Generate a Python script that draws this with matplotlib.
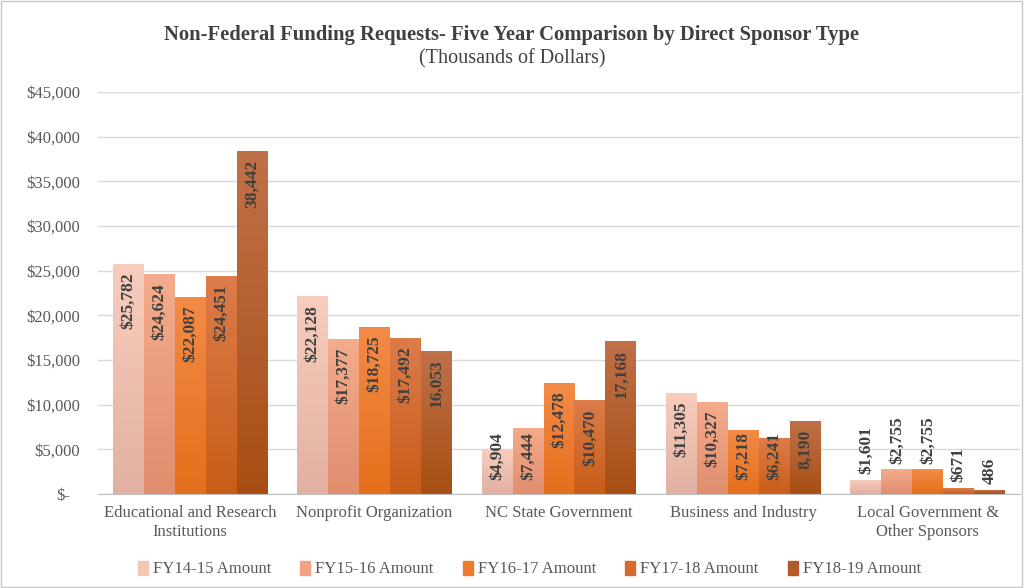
import numpy as np
import matplotlib
matplotlib.use("Agg")
import matplotlib.pyplot as plt
import matplotlib.transforms as mtransforms
from matplotlib.colors import LinearSegmentedColormap
from matplotlib.patches import Rectangle

categories = ["Educational and Research\nInstitutions", "Nonprofit Organization",
              "NC State Government", "Business and Industry",
              "Local Government &\nOther Sponsors"]
series_names = ["FY14-15 Amount", "FY15-16 Amount", "FY16-17 Amount",
                "FY17-18 Amount", "FY18-19 Amount"]
fy14_15 = [25782, 22128, 4904, 11305, 1601]
fy15_16 = [24624, 17377, 7444, 10327, 2755]
fy16_17 = [22087, 18725, 12478, 7218, 2755]
fy17_18 = [24451, 17492, 10470, 6241, 671]
fy18_19 = [38442, 16053, 17168, 8190, 486]
series = [fy14_15, fy15_16, fy16_17, fy17_18, fy18_19]
labels = [
    ["$25,782", "$22,128", "$4,904", "$11,305", "$1,601"],
    ["$24,624", "$17,377", "$7,444", "$10,327", "$2,755"],
    ["$22,087", "$18,725", "$12,478", "$7,218", "$2,755"],
    ["$24,451", "$17,492", "$10,470", "$6,241", "$671"],
    ["38,442", "16,053", "17,168", "8,190", "486"],
]
yticks = [0, 5000, 10000, 15000, 20000, 25000, 30000, 35000, 40000, 45000]
ytick_labels = ["$-", "$5,000", "$10,000", "$15,000", "$20,000", "$25,000",
                "$30,000", "$35,000", "$40,000", "$45,000"]

top_colors = ["#F8CDBD", "#F4AC8C", "#F38B48", "#DC7C4A", "#C0714A"]
bot_colors = ["#E2B0A0", "#E08E6E", "#E56F1A", "#C95D18", "#A84E14"]
legend_colors = ["#F6C6B4", "#F0A283", "#EE7A2E", "#D56A2E", "#B35A28"]

plt.rcParams['font.family'] = ['Liberation Serif', 'DejaVu Serif']

fig = plt.figure(figsize=(10.24, 5.88), dpi=100)
fig.patch.set_facecolor("white")
fig.add_artist(Rectangle((0.001, 0.001), 0.997, 0.997, transform=fig.transFigure,
                         fill=False, edgecolor="#C8C8C8", linewidth=1.0))

ax = fig.add_axes([98/1024, 1-494/588, 922/1024, 402/588])
ax.set_xlim(-0.5, 4.5)
ax.set_ylim(0, 45000)

n = len(series)
w = 0.168
x = np.arange(len(categories))
grad = np.linspace(0, 1, 256).reshape(-1, 1)
inside_texts = []
for i, vals in enumerate(series):
    offs = (i - (n - 1) / 2) * w
    bars = ax.bar(x + offs, vals, width=w, color=legend_colors[i], zorder=2,
                  label=series_names[i], linewidth=0)
    cmap = LinearSegmentedColormap.from_list("g%d" % i, [bot_colors[i], top_colors[i]])
    for b, v, lab in zip(bars, vals, labels[i]):
        bx, bw = b.get_x(), b.get_width()
        im = ax.imshow(grad, extent=(bx, bx + bw, 0, v), origin="lower",
                       cmap=cmap, aspect="auto", zorder=2.5)
        im.set_clip_path(b)
        cx = bx + bw / 2
        if v > 4000:
            t = ax.text(cx, v - 1000, lab, rotation=90, ha="center", va="top",
                        fontsize=12.5, fontweight="bold", color="#404040", zorder=4)
            inside_texts.append(t)
        else:
            ax.text(cx, v + 650, lab, rotation=90, ha="center", va="bottom",
                    fontsize=12.5, fontweight="bold", color="#404040", zorder=4,
                    clip_on=False)
ax.set_xlim(-0.5, 4.5)
ax.set_ylim(0, 45000)

ax.set_yticks(yticks)
ax.set_yticklabels(ytick_labels)
ax.set_xticks(x)
ax.set_xticklabels(categories, linespacing=1.25)
ax.tick_params(axis="both", length=0, labelsize=12, labelcolor="#595959")
ax.tick_params(axis="y", pad=13)
ax.tick_params(axis="x", pad=8)
# zero label ("$-") sits a little further left, like an accounting format
zl = ax.get_yticklabels()[0]
zl.set_transform(zl.get_transform() + mtransforms.ScaledTranslation(-10/100, 0, fig.dpi_scale_trans))
ax.grid(axis="y", color="#D9D9D9", linewidth=1, zorder=0)
ax.set_axisbelow(True)
for s in ["left", "right", "top"]:
    ax.spines[s].set_visible(False)
ax.spines["bottom"].set_color("#BFBFBF")
ax.spines["bottom"].set_zorder(3)

# keep inside labels above the bottom margin (Excel-like clamping)
fig.canvas.draw()
renderer = fig.canvas.get_renderer()
min_y = 1600
ybase_px = ax.transData.transform((0, min_y))[1]
for t in inside_texts:
    bb = t.get_window_extent(renderer)
    if bb.y0 < ybase_px:
        t.set_va("bottom")
        t.set_y(min_y)

fig.text(0.5, 1-35/588, "Non-Federal Funding Requests- Five Year Comparison by Direct Sponsor Type",
         ha="center", va="center", fontsize=14.9, fontweight="bold", color="#404040")
fig.text(0.5, 1-59/588, "(Thousands of Dollars)", ha="center", va="center",
         fontsize=14.5, color="#404040")

handles = [Rectangle((0, 0), 1, 1, color=c) for c in legend_colors]
leg = fig.legend(handles, series_names, loc="center", bbox_to_anchor=(0.517, 1-569/588),
                 ncol=5, frameon=False, fontsize=12, handlelength=0.6, handleheight=0.9,
                 handletextpad=0.3, columnspacing=1.75)
for t in leg.get_texts():
    t.set_color("#595959")

fig.savefig("out.png", dpi=100)
